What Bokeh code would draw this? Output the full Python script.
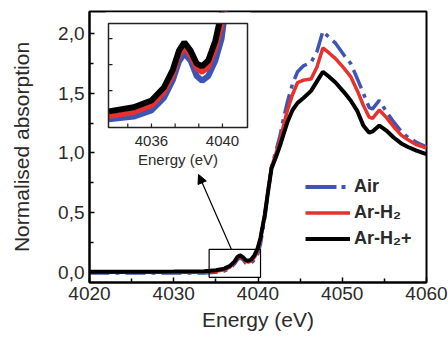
import numpy as np
from bokeh.plotting import figure
from bokeh.models import (Range1d, FixedTicker, CustomJSTickFormatter, Legend, LegendItem,
                          Arrow, NormalHead)
from bokeh.embed import file_html
from bokeh.resources import INLINE
from bokeh.core.properties import value

# ---------------- data ----------------
energy = [4020, 4025, 4030, 4033.6, 4035, 4036, 4036.7, 4037.2, 4037.55, 4037.85,
          4038.2, 4038.55, 4038.85, 4039.2, 4039.6, 4039.95, 4040.3, 4040.8, 4041.2, 4041.6,
          4042.1, 4042.6, 4043.0, 4043.5, 4044.1, 4044.7, 4045.4, 4046.3, 4047.0, 4047.7,
          4048.4, 4049.2, 4050.2, 4051.0, 4051.8, 4052.5, 4053.2, 4053.6, 4054.4, 4055.2,
          4056.1, 4057.0, 4057.8, 4058.8, 4060]
air = [-0.005, -0.005, -0.005, -0.005, 0.0, 0.012, 0.036, 0.070, 0.106, 0.122,
       0.108, 0.078, 0.069, 0.078, 0.108, 0.150, 0.24, 0.45, 0.67, 0.88,
       1.01, 1.14, 1.28, 1.43, 1.58, 1.68, 1.73, 1.76, 1.85, 2.02,
       1.97, 1.92, 1.82, 1.75, 1.62, 1.50, 1.38, 1.37, 1.44, 1.35,
       1.26, 1.18, 1.13, 1.09, 1.05]
ar_h2 = [0.0, 0.0, 0.0, 0.0, 0.008, 0.021, 0.046, 0.080, 0.117, 0.133,
         0.117, 0.092, 0.085, 0.095, 0.130, 0.175, 0.28, 0.48, 0.69, 0.88,
         0.99, 1.10, 1.22, 1.36, 1.49, 1.59, 1.61, 1.62, 1.72, 1.88,
         1.84, 1.79, 1.71, 1.64, 1.52, 1.40, 1.30, 1.29, 1.36, 1.30,
         1.22, 1.15, 1.11, 1.07, 1.04]
ar_h2_plus = [0.005, 0.006, 0.007, 0.010, 0.018, 0.031, 0.056, 0.090, 0.127, 0.143,
              0.127, 0.102, 0.097, 0.108, 0.146, 0.200, 0.29, 0.48, 0.68, 0.87,
              0.96, 1.06, 1.15, 1.26, 1.36, 1.42, 1.46, 1.52, 1.60, 1.68,
              1.64, 1.59, 1.51, 1.44, 1.35, 1.23, 1.17, 1.18, 1.23, 1.19,
              1.13, 1.08, 1.05, 1.02, 0.99]
series_labels = ["Air", "Ar-H\u2082", "Ar-H\u2082+"]

x_ticks = [4020, 4030, 4040, 4050, 4060]
x_minor_ticks = [4025, 4035, 4045, 4055]
y_ticks = [0.0, 0.5, 1.0, 1.5, 2.0]
y_minor_ticks = [0.25, 0.75, 1.25, 1.75]

inset_x_ticks = [4036, 4040]
inset_x_tick_labels = ["4036", "4040"]
inset_y_ticks = [0.05, 0.10, 0.15]

# zoom box drawn on the main plot [x0, x1, y0, y1] and the arrow [xs, ys, xe, ye]
zoom_box = [4034.2, 4040.3, -0.042, 0.192]
arrow_pts = [4036.85, 0.192, 4032.94, 0.82]

# ---------------- styles ----------------
FONT = "Liberation Sans"
TXT = "#2a2a2a"
BLUE = "#3d56b3"
RED = "#e8312e"
BLACK = "#000000"

p = figure(width=448, height=340,
           x_range=Range1d(4020, 4060), y_range=Range1d(-0.085, 2.185),
           output_backend="svg", toolbar_location=None,
           min_border_left=89, min_border_right=22, min_border_top=11, min_border_bottom=58)
p.grid.visible = False
p.background_fill_color = "white"
p.border_fill_color = "white"
p.outline_line_color = BLACK
p.outline_line_width = 2
p.outline_line_alpha = 1

p.xaxis.ticker = FixedTicker(ticks=x_ticks, minor_ticks=x_minor_ticks)
p.yaxis.ticker = FixedTicker(ticks=y_ticks, minor_ticks=y_minor_ticks)
p.yaxis.formatter = CustomJSTickFormatter(code="return tick.toFixed(1).replace('.', ',');")
for ax in (p.xaxis, p.yaxis):
    ax.axis_line_width = 2
    ax.axis_line_color = BLACK
    ax.major_tick_in = 5
    ax.major_tick_out = 0
    ax.minor_tick_in = 4
    ax.minor_tick_out = 0
    ax.major_tick_line_width = 1.5
    ax.minor_tick_line_width = 1.5
    ax.major_tick_line_color = BLACK
    ax.minor_tick_line_color = BLACK
    ax.major_label_text_font = FONT
    ax.major_label_text_font_size = "19px"
    ax.major_label_text_color = TXT
    ax.axis_label_text_font = FONT
    ax.axis_label_text_font_size = "21px"
    ax.axis_label_text_font_style = "normal"
    ax.axis_label_text_color = TXT
p.xaxis.axis_label = "Energy (eV)"
p.yaxis.axis_label = "Normalised absorption"
p.xaxis.major_label_standoff = 4
p.xaxis.axis_label_standoff = 5
p.yaxis.major_label_standoff = 5
p.yaxis.axis_label_standoff = 22

# ---------------- main curves ----------------
r_air = p.line(energy, air, line_color=BLUE, line_width=3.5, line_dash="20 6 4 6")
r_h2 = p.line(energy, ar_h2, line_color=RED, line_width=3.5)
r_plus = p.line(energy, ar_h2_plus, line_color=BLACK, line_width=4)
# legend-only glyph for the dash-dot sample (hidden on the plot)
r_air_key = p.line(energy, air, line_color=BLUE, line_width=4, line_dash="31 5 4 5", visible=False)

# zoom box and arrow
p.quad(left=[zoom_box[0]], right=[zoom_box[1]], bottom=[zoom_box[2]], top=[zoom_box[3]],
       fill_alpha=0, line_color=BLACK, line_width=1.2)
p.add_layout(Arrow(x_start=arrow_pts[0], y_start=arrow_pts[1], x_end=arrow_pts[2], y_end=arrow_pts[3],
                   line_color=BLACK, line_width=1.2,
                   end=NormalHead(size=9, fill_color=BLACK, line_color=BLACK, line_width=1)))

# ---------------- inset ----------------
inset_x = Range1d(4033.58, 4041.41)
inset_y = Range1d(-0.021, 0.179)
ins = p.subplot(x_source=inset_x, y_source=inset_y,
                x_target=Range1d(4022.255, 4038.754), y_target=Range1d(1.2134, 2.0837))
inset_w_px, inset_h_px = 139.0, 104.0
dx_px = (inset_x.end - inset_x.start) / inset_w_px
dy_px = (inset_y.end - inset_y.start) / inset_h_px

e = np.array(energy)
sel = (e >= 4033.5) & (e <= 4041.7)
ins.quad(left=[inset_x.start], right=[inset_x.end], bottom=[inset_y.start], top=[inset_y.end],
         fill_color="white", line_alpha=0)
ins.line(e[sel], np.array(air)[sel], line_color=BLUE, line_width=6)
ins.line(e[sel], np.array(ar_h2)[sel], line_color=RED, line_width=5)
ins.line(e[sel], np.array(ar_h2_plus)[sel], line_color=BLACK, line_width=6)
# mask the part of the inset curves that leaves through the inset's top edge
ins.quad(left=[inset_x.start - 3 * dx_px], right=[inset_x.end + 3 * dx_px],
         bottom=[inset_y.end], top=[inset_y.end + 11 * dy_px],
         fill_color="white", line_alpha=0)
ins.quad(left=[inset_x.start], right=[inset_x.end], bottom=[inset_y.start], top=[inset_y.end],
         fill_alpha=0, line_color="#222222", line_width=1.5)

step = (inset_x_ticks[1] - inset_x_ticks[0]) / 3.0
inset_x_minor = [inset_x_ticks[0] - step, inset_x_ticks[0] + step, inset_x_ticks[0] + 2 * step]
all_xt = inset_x_ticks + inset_x_minor
ins.segment(x0=all_xt, y0=[inset_y.start] * len(all_xt), x1=all_xt,
            y1=[inset_y.start + 4 * dy_px] * len(all_xt), line_color="#222222", line_width=1.2)
ins.segment(x0=[inset_x.start] * 3, y0=inset_y_ticks, x1=[inset_x.start + 4 * dx_px] * 3,
            y1=inset_y_ticks, line_color="#222222", line_width=1.2)
ins.text(x=inset_x_ticks, y=[inset_y.start] * 2, text=inset_x_tick_labels,
         text_align="center", text_baseline="middle", y_offset=14,
         text_font=value(FONT), text_font_size="15px", text_color=TXT)
ins.text(x=[(inset_x.start + inset_x.end) / 2], y=[inset_y.start], text=["Energy (eV)"],
         text_align="center", text_baseline="middle", y_offset=32,
         text_font=value(FONT), text_font_size="15px", text_color=TXT)

# ---------------- legend ----------------
legend = Legend(items=[LegendItem(label=series_labels[0], renderers=[r_air_key]),
                       LegendItem(label=series_labels[1], renderers=[r_h2]),
                       LegendItem(label=series_labels[2], renderers=[r_plus])],
                location=(216, 33), padding=0, margin=0, spacing=5,
                glyph_width=45, glyph_height=21, label_height=21, label_standoff=4,
                label_text_font=FONT, label_text_font_size="18px", label_text_font_style="bold",
                label_text_color=TXT, background_fill_alpha=0, border_line_alpha=0)
p.add_layout(legend)

open("out.html", "w").write(file_html(p, INLINE))
